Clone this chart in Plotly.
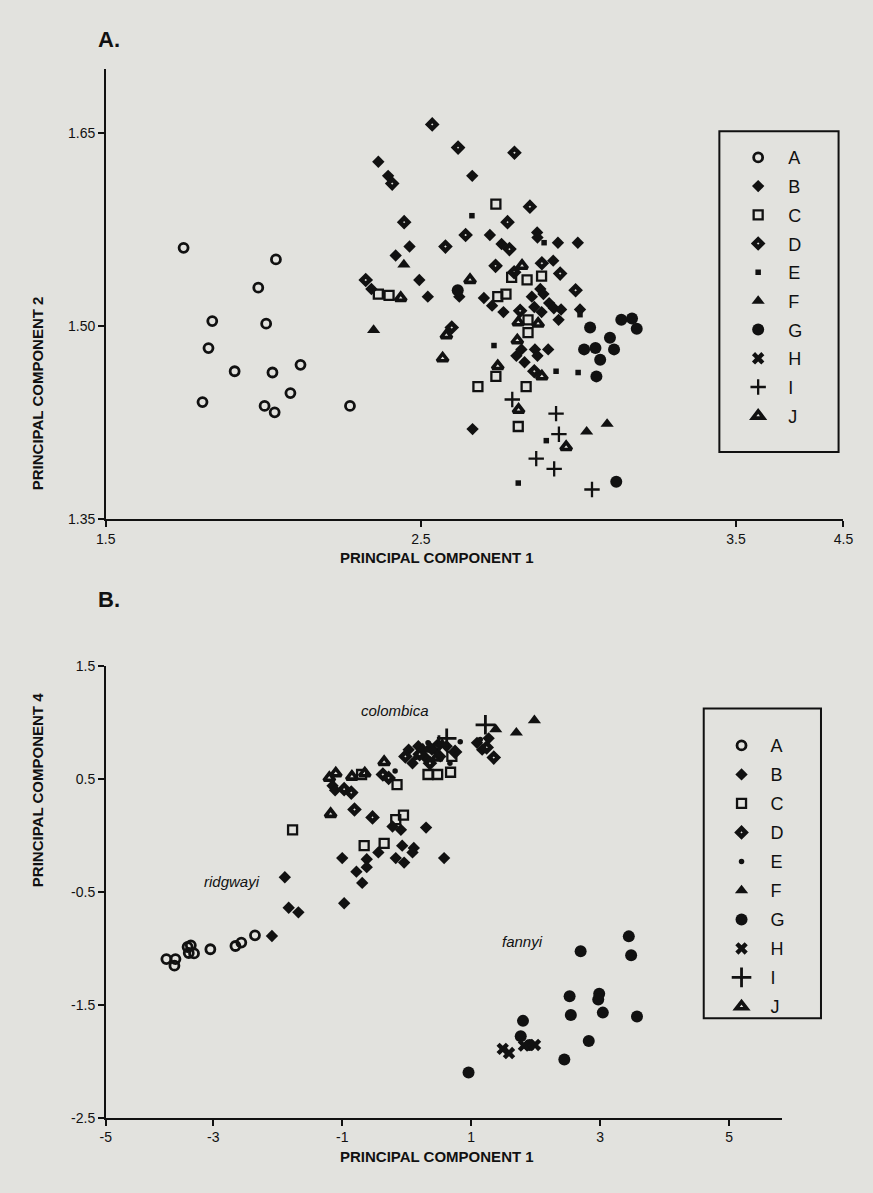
import plotly.graph_objects as go

# ---------------- Panel A data (PC1 vs PC2) ----------------
pa_A_x = [1.747, 2.040, 1.984, 1.838, 2.009, 1.826, 1.909, 2.029, 2.118, 2.086, 1.807, 2.004, 2.036, 2.275]
pa_A_y = [1.561, 1.552, 1.530, 1.504, 1.502, 1.483, 1.465, 1.464, 1.470, 1.448, 1.441, 1.438, 1.433, 1.438]

pa_B_x = [2.365, 2.396, 2.663, 2.719, 2.756, 2.464, 2.420, 2.495, 2.343, 2.622, 2.522, 2.700, 2.726, 2.762,
          2.852, 2.879, 2.889, 2.869, 2.870, 2.935, 2.998, 2.920, 2.860, 2.883, 2.907, 2.922, 2.945, 3.005,
          2.937, 2.803, 2.819, 2.829, 2.862, 2.870, 2.904, 2.664]
pa_B_y = [1.628, 1.617, 1.617, 1.571, 1.564, 1.562, 1.555, 1.536, 1.529, 1.523, 1.523, 1.522, 1.516, 1.511,
          1.523, 1.529, 1.525, 1.573, 1.569, 1.565, 1.565, 1.551, 1.515, 1.511, 1.518, 1.514, 1.513, 1.513,
          1.505, 1.477, 1.482, 1.472, 1.482, 1.477, 1.482, 1.420]

pa_C_x = [2.738, 2.788, 2.837, 2.883, 2.744, 2.770, 2.365, 2.840, 2.840, 2.738, 2.681, 2.809, 2.834, 2.399]
pa_C_y = [1.595, 1.538, 1.536, 1.539, 1.523, 1.525, 1.525, 1.505, 1.495, 1.461, 1.453, 1.422, 1.453, 1.524]

pa_D_x = [2.536, 2.618, 2.797, 2.409, 2.846, 2.447, 2.775, 2.642, 2.781, 2.578, 2.737, 2.325, 2.884, 2.942,
          2.991, 2.815, 2.860, 2.598, 2.796]
pa_D_y = [1.657, 1.639, 1.635, 1.611, 1.593, 1.581, 1.581, 1.571, 1.560, 1.562, 1.547, 1.536, 1.549, 1.541,
          1.528, 1.512, 1.465, 1.499, 1.542]

pa_E_x = [2.662, 2.891, 3.005, 2.732, 2.929, 2.999, 2.898, 2.809]
pa_E_y = [1.586, 1.565, 1.509, 1.485, 1.465, 1.464, 1.411, 1.378]

pa_F_x = [2.446, 2.350, 3.026, 3.091]
pa_F_y = [1.548, 1.497, 1.418, 1.424]

pa_G_x = [2.617, 3.037, 3.136, 3.170, 3.185, 3.100, 3.018, 3.054, 3.069, 3.113, 3.057, 3.120]
pa_G_y = [1.528, 1.499, 1.505, 1.506, 1.498, 1.491, 1.482, 1.483, 1.474, 1.482, 1.461, 1.379]

pa_H_x = [None]
pa_H_y = [None]

pa_I_x = [2.790, 2.929, 2.938, 2.866, 2.923, 3.043]
pa_I_y = [1.443, 1.432, 1.416, 1.397, 1.389, 1.373]

pa_J_x = [2.821, 2.656, 2.809, 2.872, 2.581, 2.569, 2.806, 2.744, 2.884, 2.810, 2.961, 2.436]
pa_J_y = [1.547, 1.536, 1.503, 1.502, 1.493, 1.475, 1.489, 1.469, 1.461, 1.435, 1.406, 1.522]

# ---------------- Panel B data (PC1 vs PC4) ----------------
pb_A_x = [-3.727, -3.586, -3.602, -3.398, -3.348, -3.298, -3.380, -3.045, -2.656, -2.565, -2.353]
pb_A_y = [-1.094, -1.094, -1.152, -0.987, -0.972, -1.044, -1.040, -1.007, -0.978, -0.948, -0.884]

pb_B_x = [0.30, -0.22, -0.09, -0.44, -0.07, 0.11, 0.09, -1.00, -0.62, -0.62, -0.78, -0.17, -0.04, 0.58,
          -1.89, -0.69, -0.97, -1.83, -1.68, -2.09, -1.15, -1.11, 0.03, 0.18, 0.29, 0.39, 0.52, 0.09,
          0.62, 1.09, 1.27, 1.17]
pb_B_y = [0.07, 0.08, 0.05, -0.15, -0.09, -0.11, -0.15, -0.20, -0.21, -0.28, -0.32, -0.20, -0.24, -0.20,
          -0.37, -0.42, -0.60, -0.64, -0.68, -0.89, 0.44, 0.40, 0.76, 0.79, 0.69, 0.76, 0.70, 0.64,
          0.79, 0.82, 0.86, 0.76]

pb_C_x = [0.33, 0.48, 0.68, 0.70, -0.15, -0.17, -0.05, -0.66, -0.35, -1.77, -0.70]
pb_C_y = [0.54, 0.54, 0.56, 0.70, 0.45, 0.14, 0.18, -0.09, -0.07, 0.05, 0.54]

pb_D_x = [-0.81, -0.53, -0.37, -0.28, -0.97, -0.86, -0.02, 0.36, 0.47, 1.35, 1.24, 0.20, 0.75]
pb_D_y = [0.23, 0.16, 0.54, 0.51, 0.41, 0.38, 0.70, 0.64, 0.79, 0.69, 0.78, 0.72, 0.74]

pb_E_x = [-0.18, 0.83, 0.14, 0.33, 0.67, 1.14, 0.45]
pb_E_y = [0.57, 0.83, 0.69, 0.82, 0.64, 0.85, 0.74]

pb_F_x = [1.98, 1.70, 1.38, 0.25, 0.55]
pb_F_y = [1.02, 0.91, 0.94, 0.77, 0.81]

pb_G_x = [2.697, 3.444, 3.480, 2.526, 2.985, 2.970, 2.545, 3.041, 3.571, 1.803, 1.768, 1.905, 2.823, 2.444, 0.959]
pb_G_y = [-1.024, -0.893, -1.059, -1.423, -1.400, -1.452, -1.589, -1.568, -1.603, -1.641, -1.778, -1.854,
          -1.819, -1.982, -2.098]

pb_H_x = [1.489, 1.586, 1.818, 1.989]
pb_H_y = [-1.889, -1.926, -1.860, -1.854]

pb_I_x = [1.22, 0.62, 0.50]
pb_I_y = [0.98, 0.86, 0.80]

pb_J_x = [-1.20, -1.18, -0.35, -0.85, 0.36, 0.47, -1.10, -0.65]
pb_J_y = [0.51, 0.19, 0.65, 0.52, 0.77, 0.69, 0.55, 0.55]

groups = ["A", "B", "C", "D", "E", "F", "G", "H", "I", "J"]
panel_a = {"A": (pa_A_x, pa_A_y), "B": (pa_B_x, pa_B_y), "C": (pa_C_x, pa_C_y), "D": (pa_D_x, pa_D_y),
           "E": (pa_E_x, pa_E_y), "F": (pa_F_x, pa_F_y), "G": (pa_G_x, pa_G_y), "H": (pa_H_x, pa_H_y),
           "I": (pa_I_x, pa_I_y), "J": (pa_J_x, pa_J_y)}
panel_b = {"A": (pb_A_x, pb_A_y), "B": (pb_B_x, pb_B_y), "C": (pb_C_x, pb_C_y), "D": (pb_D_x, pb_D_y),
           "E": (pb_E_x, pb_E_y), "F": (pb_F_x, pb_F_y), "G": (pb_G_x, pb_G_y), "H": (pb_H_x, pb_H_y),
           "I": (pb_I_x, pb_I_y), "J": (pb_J_x, pb_J_y)}

INK = "#111111"
BG = "#e2e2de"

def style(g, panel):
    s = {
        "A": dict(symbol="circle-open", size=9, line=dict(width=2.8, color=INK)),
        "B": dict(symbol="diamond", size=9.5, line=dict(width=0)),
        "C": dict(symbol="square-open", size=9, line=dict(width=2.3, color=INK)),
        "D": dict(symbol="diamond-open", size=6.5, line=dict(width=4.4, color=INK)),
        "E": dict(symbol="square" if panel == "a" else "circle", size=5.5, line=dict(width=0)),
        "F": dict(symbol="triangle-up", size=11.5, line=dict(width=0)),
        "G": dict(symbol="circle", size=12, line=dict(width=0)),
        "H": dict(symbol="x", size=11, line=dict(width=0)),
        "I": dict(symbol="cross-thin-open", size=11 if panel == "a" else 14,
                  line=dict(width=2.3 if panel == "a" else 2.8, color=INK)),
        "J": dict(symbol="triangle-up-open", size=9.5, line=dict(width=3.6, color=INK)),
    }[g]
    s["color"] = INK
    return s

fig = go.Figure()
for g in groups:
    x, y = panel_a[g]
    fig.add_trace(go.Scatter(x=x, y=y, mode="markers", name=g, marker=style(g, "a"),
                             xaxis="x", yaxis="y", legend="legend", legendgroup="a" + g,
                             cliponaxis=False))
for g in groups:
    x, y = panel_b[g]
    fig.add_trace(go.Scatter(x=x, y=y, mode="markers", name=g, marker=style(g, "b"),
                             xaxis="x2", yaxis="y2", legend="legend2", legendgroup="b" + g,
                             cliponaxis=False))

W, H = 873, 1193
def px(xp):
    return xp / W
def py(yp):
    return 1 - yp / H

axis_common = dict(showline=True, linecolor=INK, linewidth=1.5, ticks="outside", ticklen=6,
                   tickwidth=1.5, tickcolor=INK, showgrid=False, zeroline=False,
                   tickfont=dict(family="Liberation Sans, Arial, sans-serif", size=14, color=INK))

fig.update_layout(
    width=W, height=H,
    margin=dict(l=0, r=0, t=0, b=0),
    paper_bgcolor=BG, plot_bgcolor=BG,
    font=dict(family="Liberation Sans, Arial, sans-serif", color=INK),
    xaxis=dict(domain=[px(98), px(853)], range=[1.5, 3.841], tickvals=[1.5, 2.5, 3.5, 3.841],
               ticktext=["1.5", "2.5", "3.5", "4.5"], anchor="y", **axis_common),
    yaxis=dict(domain=[py(518), py(62)], range=[1.35, 1.70], tickvals=[1.35, 1.50, 1.65],
               ticktext=["1.35", "1.50", "1.65"], anchor="x", **axis_common),
    xaxis2=dict(domain=[px(98), px(790)], range=[-4.667, 5.818], tickvals=[-4.667, -3, -1, 1, 3, 5],
                ticktext=["-5", "-3", "-1", "1", "3", "5"], anchor="y2", **axis_common),
    yaxis2=dict(domain=[py(1125), py(667)], range=[-2.5, 1.5], tickvals=[-2.5, -1.5, -0.5, 0.5, 1.5],
                ticktext=["-2.5", "-1.5", "-0.5", "0.5", "1.5"], anchor="x2", **axis_common),
    legend=dict(x=px(735), y=py(133), xanchor="left", yanchor="top", bgcolor="rgba(0,0,0,0)",
                borderwidth=0, font=dict(size=18, color=INK), traceorder="grouped",
                tracegroupgap=2.3, itemclick=False, itemwidth=50),
    legend2=dict(x=px(719), y=py(729), xanchor="left", yanchor="top", bgcolor="rgba(0,0,0,0)",
                 borderwidth=0, font=dict(size=18, color=INK), traceorder="grouped",
                 tracegroupgap=2.6, itemclick=False, itemwidth=48),
    shapes=[
        dict(type="rect", xref="paper", yref="paper", x0=px(726), x1=px(848), y0=py(450), y1=py(125),
             line=dict(color=INK, width=2)),
        dict(type="rect", xref="paper", yref="paper", x0=px(710), x1=px(830), y0=py(1024), y1=py(710),
             line=dict(color=INK, width=2)),
    ],
)

title_font = dict(family="Liberation Sans, Arial, sans-serif", size=15, color=INK)
annos = [
    dict(text="<b>A.</b>", x=px(88), y=py(32), xanchor="left", yanchor="middle",
         font=dict(size=22, color=INK)),
    dict(text="<b>B.</b>", x=px(88), y=py(600), xanchor="left", yanchor="middle",
         font=dict(size=22, color=INK)),
    dict(text="<b>PRINCIPAL COMPONENT 1</b>", x=px(437), y=py(557), font=title_font),
    dict(text="<b>PRINCIPAL COMPONENT 2</b>", x=px(17), y=py(290), textangle=-90, font=title_font),
    dict(text="<b>PRINCIPAL COMPONENT 1</b>", x=px(437), y=py(1175), font=title_font),
    dict(text="<b>PRINCIPAL COMPONENT 4</b>", x=px(17), y=py(893), textangle=-90, font=title_font),
    dict(text="<i>colombica</i>", x=px(394), y=py(712), font=dict(size=15, color=INK)),
    dict(text="<i>ridgwayi</i>", x=px(196), y=py(896), font=dict(size=15, color=INK)),
    dict(text="<i>fannyi</i>", x=px(525), y=py(957), font=dict(size=15, color=INK)),
]
for a in annos:
    a.update(xref="paper", yref="paper", showarrow=False)
fig.update_layout(annotations=annos)

fig.write_html(
    "out.html",
    config={"responsive": False, "displayModeBar": False},
    post_script="document.body.style.margin='0';document.body.style.padding='0';"
                "document.body.style.background='#e2e2de';",
)
